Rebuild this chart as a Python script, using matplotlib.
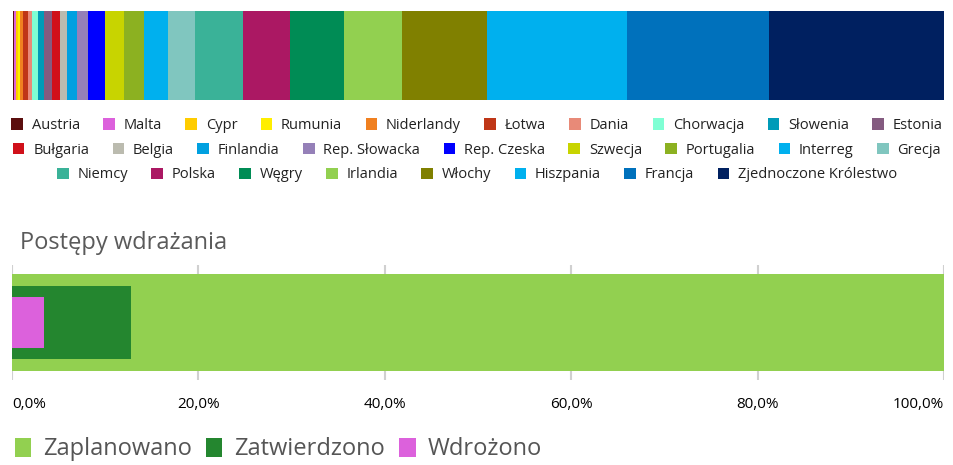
import matplotlib.pyplot as plt
from matplotlib.patches import Patch
import numpy as np

plt.rcParams['font.family'] = ['Open Sans', 'DejaVu Sans']

# Share of allocation per member state (relative units)
countries = ['Austria', 'Malta', 'Cypr', 'Rumunia', 'Niderlandy', 'Łotwa', 'Dania',
             'Chorwacja', 'Słowenia', 'Estonia', 'Bułgaria', 'Belgia', 'Finlandia',
             'Rep. Słowacka', 'Rep. Czeska', 'Szwecja', 'Portugalia', 'Interreg',
             'Grecja', 'Niemcy', 'Polska', 'Węgry', 'Irlandia', 'Włochy',
             'Hiszpania', 'Francja', 'Zjednoczone Królestwo']
shares = [1.3, 1.7, 2.0, 2.3, 3.0, 5.0, 4.0, 6.0, 6.0, 8.0, 8.0, 7.0, 10.0,
          11.0, 17.0, 19.0, 20.0, 24.0, 27.0, 48.0, 47.0, 54.0, 58.0, 85.0,
          140.0, 142.0, 175.0]
colors = ['#5b0e0e', '#dc61dc', '#ffcc00', '#ffee00', '#f08020', '#bf3617', '#e88a78',
          '#7fffd4', '#009bb8', '#845b80', '#d0101a', '#bbbbaf', '#00a0e0',
          '#9580b8', '#0000ff', '#c8d400', '#8cb121', '#00b0ee', '#80c6bf',
          '#3ab298', '#ab1863', '#008c55', '#92d050', '#808000', '#00b0ee',
          '#0071bc', '#002060']
legend_rows = [10, 9, 8]

# Implementation progress (% of planned)
stages = ['Zaplanowano', 'Zatwierdzono', 'Wdrożono']
progress = [100.0, 12.8, 3.4]
stage_colors = ['#92d050', '#24862f', '#dc61dc']
stage_heights = [0.85, 0.635, 0.435]
ticks = [0, 20, 40, 60, 80, 100]

W, H = 954, 465
fig = plt.figure(figsize=(W / 100, H / 100), dpi=100)

# ---- top stacked bar ----
ax1 = fig.add_axes([12.7 / W, 1 - 100 / H, 931.3 / W, 89 / H])
left = np.concatenate([[0], np.cumsum(shares)[:-1]])
ax1.barh(0, shares, left=left, color=colors, height=1.0)
ax1.set_xlim(0, sum(shares))
ax1.set_ylim(-0.5, 0.5)
ax1.axis('off')

# legend, one centred row at a time
row_y = [125.5, 150, 175]
start = 0
for n, y in zip(legend_rows, row_y):
    handles = [Patch(facecolor=c) for c in colors[start:start + n]]
    fig.legend(handles, countries[start:start + n], ncol=n, loc='center',
               bbox_to_anchor=(0.5, 1 - y / H), frameon=False, fontsize=10.5,
               handlelength=0.8, handleheight=0.8, handletextpad=0.6,
               columnspacing=1.6, borderpad=0, labelcolor='#222222')
    start += n

# ---- progress chart ----
fig.text(20 / W, 1 - 243 / H, 'Postępy wdrażania', fontsize=17, color='#5a5a5a',
         va='center', ha='left')

ax2 = fig.add_axes([12 / W, 1 - 380 / H, 932 / W, 115 / H])
for t in ticks:
    ax2.axvline(t, color='#d0d0d0', lw=1.5, zorder=0)
for s, p, c, h in zip(stages, progress, stage_colors, stage_heights):
    ax2.barh(0, p, height=h, color=c, label=s, zorder=2)
ax2.set_xlim(0, 100)
ax2.set_ylim(-0.5, 0.5)
ax2.set_yticks([])
for sp in ax2.spines.values():
    sp.set_visible(False)
ax2.set_xticks(ticks)
ax2.set_xticklabels([f'{t:.1f}%'.replace('.', ',') for t in ticks], fontsize=11)
ax2.tick_params(axis='x', length=0, pad=12)
labels = ax2.get_xticklabels()
labels[0].set_ha('left')
labels[-1].set_ha('right')

fig.legend(loc='lower left', bbox_to_anchor=(-2 / W, -0.028), ncol=3, frameon=False,
           fontsize=17, handlelength=0.7, handleheight=0.9, handletextpad=0.5,
           columnspacing=0.6, labelcolor='#555555', borderpad=0.2)

plt.savefig('out.png', dpi=100)
